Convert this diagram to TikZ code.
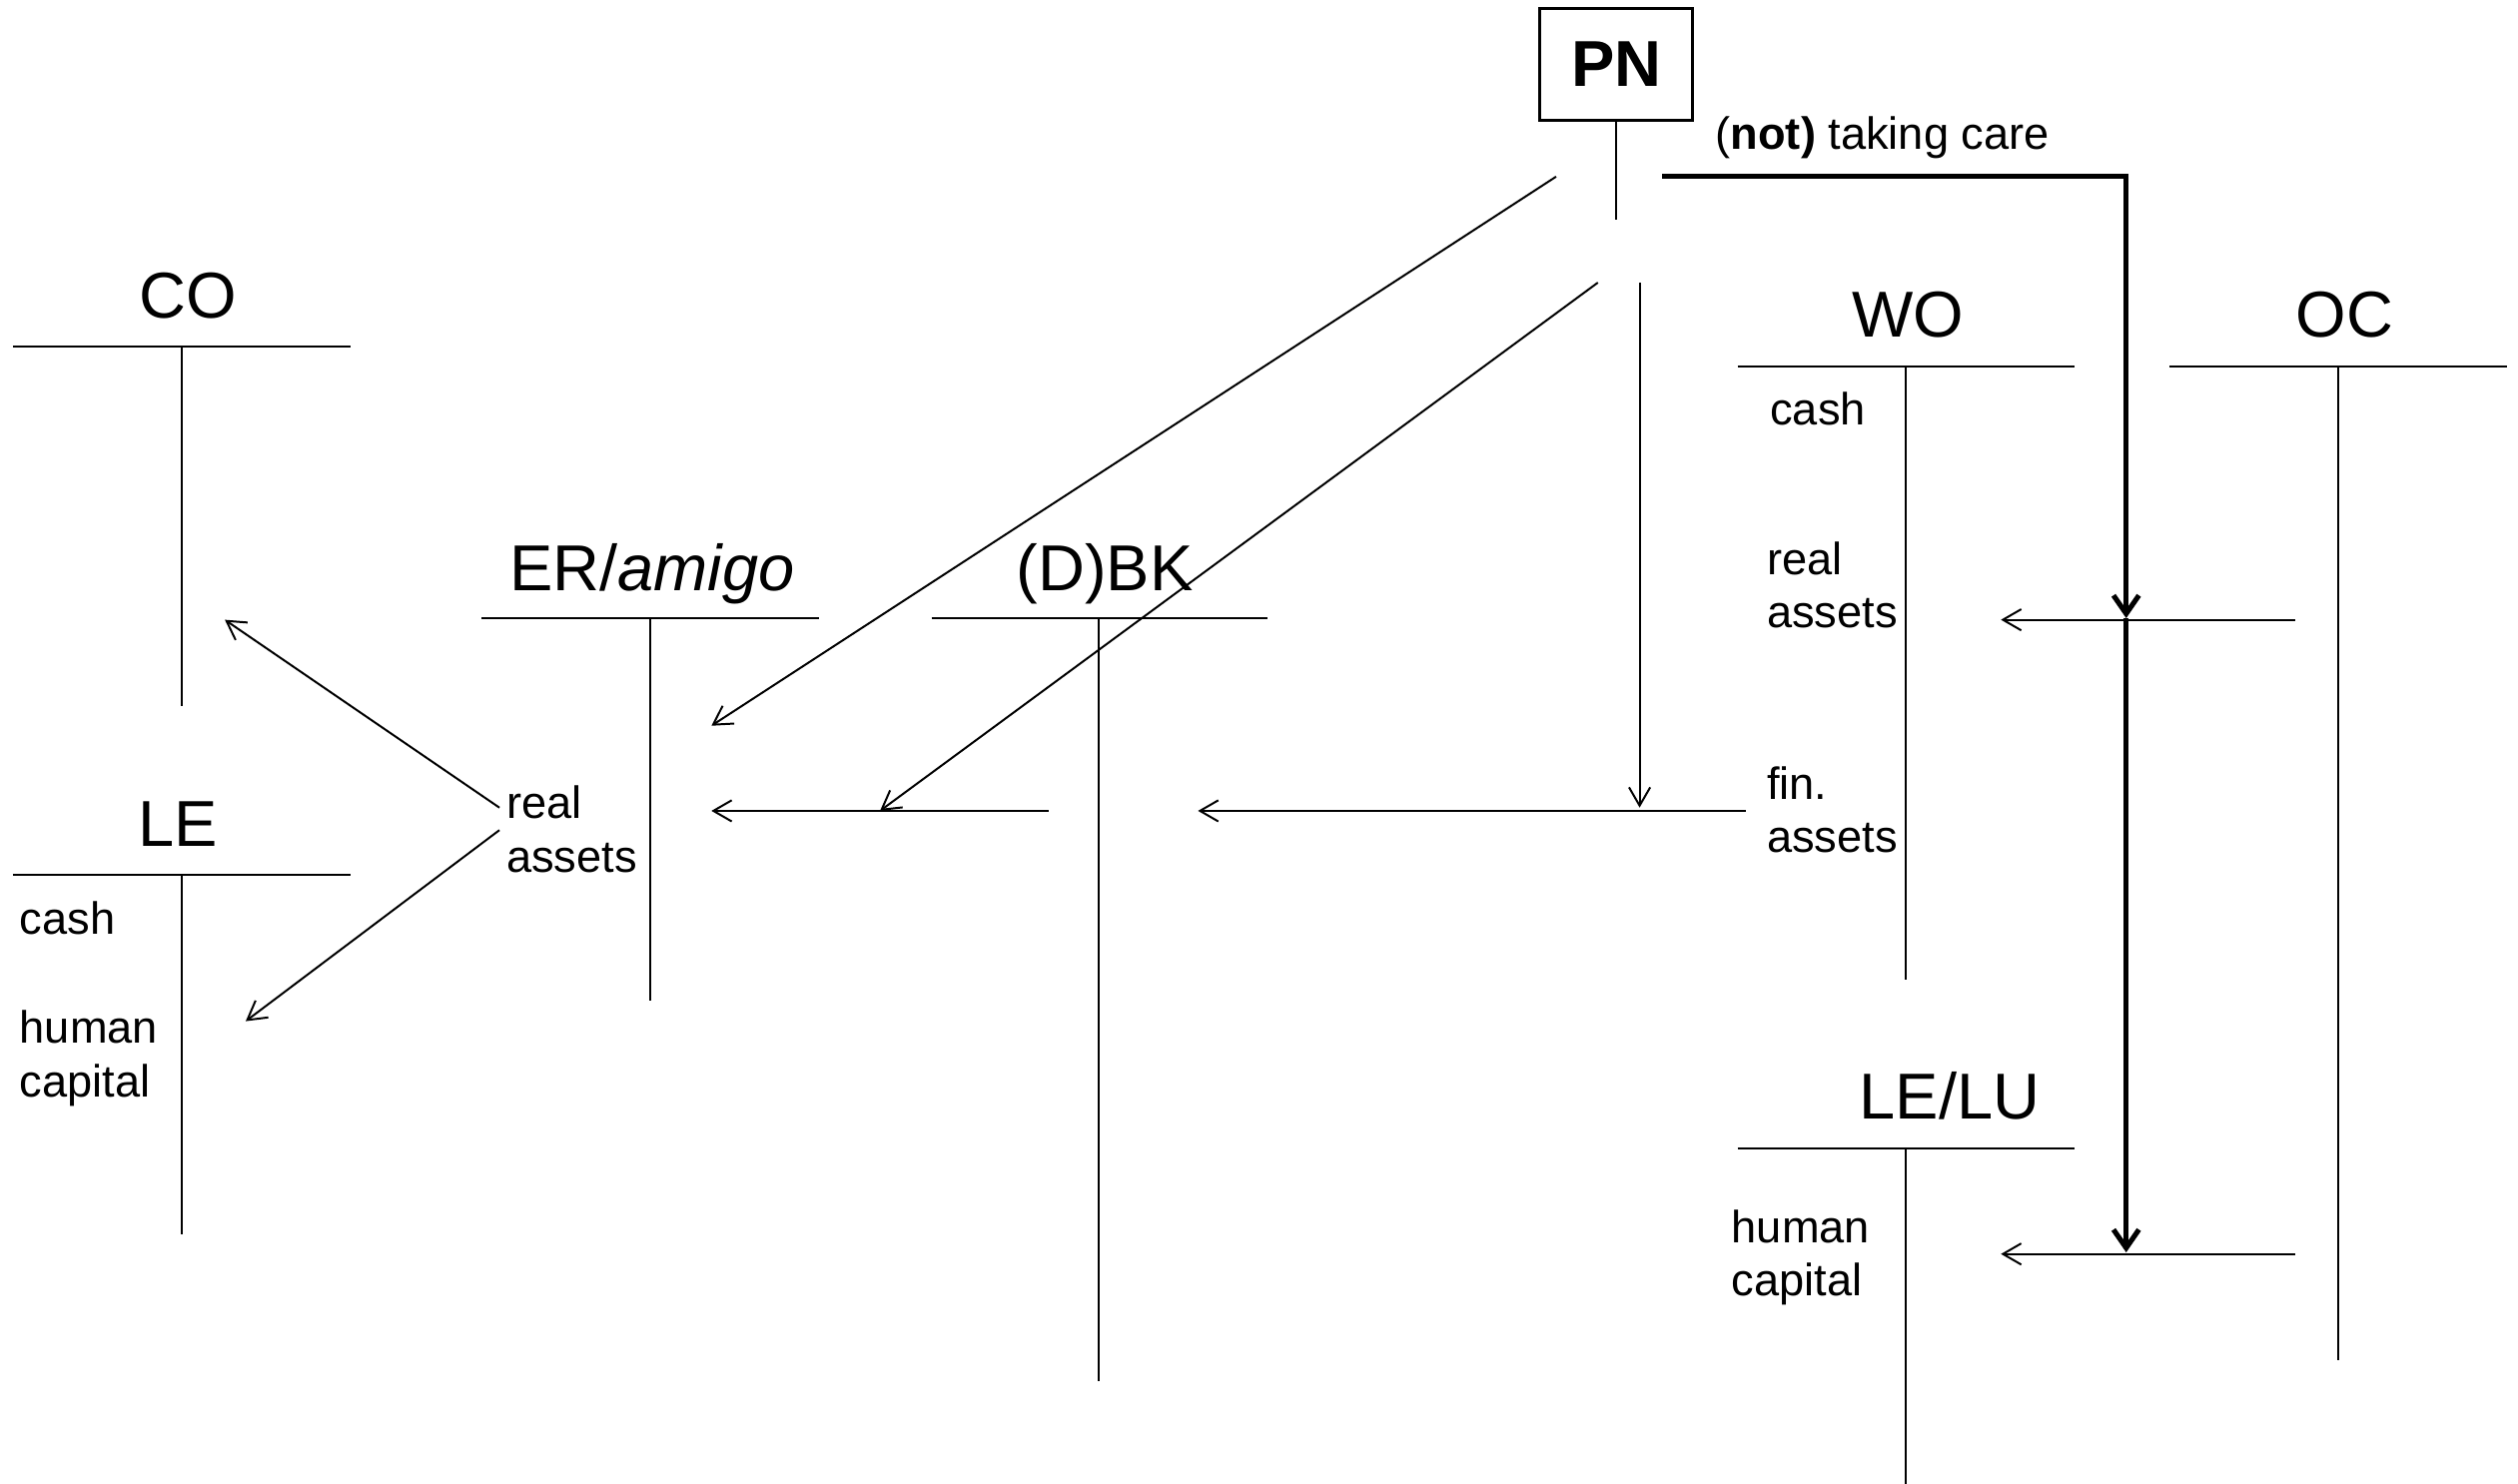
\documentclass[tikz,border=0pt]{standalone}
\usepackage{fontspec}
\setmainfont{Liberation Sans}
\usetikzlibrary{arrows.meta}
\begin{document}
\begin{tikzpicture}[x=0.02cm,y=-0.02cm,
  ttl/.style={font=\fontsize{23}{27}\selectfont, anchor=base, inner sep=0pt},
  lbl/.style={font=\fontsize{16}{19}\selectfont, align=left, anchor=north west, inner sep=0pt},
  rule/.style={line width=0.7pt},
  flow/.style={line width=0.7pt, -{Straight Barb[length=6.5pt,width=7.5pt]}},
  bigflow/.style={line width=1.8pt, line join=miter, -{Straight Barb[length=6.5pt,width=9pt]}},
  pnbox/.style={draw, line width=1.1pt, minimum width=1.9cm, minimum height=1.4cm, inner sep=0pt,
    font=\fontsize{23}{27}\selectfont\bfseries}]
\useasboundingbox (0,0) rectangle (1568,924);

% PN
\node[pnbox] (pn) at (1006.5,40) {PN};
\coordinate (pnstem) at (1006.5,137);
\draw[rule] (pn.south) -- (pnstem);
\node[font=\fontsize{16}{19}\selectfont, anchor=base west, inner sep=0pt] (care) at (1068,93) {(\textbf{not)} taking care};

% T-accounts
\node[ttl] (co) at (117,198) {CO};
\draw[rule] (8,216) -- (218,216) (113,216) -- (113,440);

\node[ttl] (le) at (111,527) {LE};
\draw[rule] (8,545) -- (218,545) (113,545) -- (113,769);
\node[lbl] (lecash) at (12,561) {cash};
\node[lbl] (lehum) at (12,629) {human\\capital};

\node[ttl] (er) at (406,368) {ER/\textit{amigo}};
\draw[rule] (300,385) -- (510,385) (405,385) -- (405,623);
\node[lbl] (erreal) at (315,489) {real\\assets};

\node[ttl] (dbk) at (688,368) {(D)BK};
\draw[rule] (580,385) -- (789,385) (684,385) -- (684,860);

\node[ttl] (wo) at (1188,210) {WO};
\draw[rule] (1082,228) -- (1292,228) (1187,228) -- (1187,610);
\node[lbl] (wocash) at (1102,244) {cash};
\node[lbl] (woreal) at (1100,337) {real\\assets};
\node[lbl] (wofin) at (1100,477) {fin.\\assets};

\node[ttl] (oc) at (1460,210) {OC};
\draw[rule] (1351,228) -- (1561,228) (1456,228) -- (1456,847);

\node[ttl] (lelu) at (1214,697) {LE/LU};
\draw[rule] (1082,715) -- (1292,715) (1187,715) -- (1187,924);
\node[lbl] (luhum) at (1078,753) {human\\capital};

% arrow end points
\coordinate (a1s) at (969,110);  \coordinate (a1e) at (443,452);
\coordinate (a2s) at (995,176);  \coordinate (a2e) at (548,505);
\coordinate (a3s) at (1021,176); \coordinate (a3e) at (1021,503);
\coordinate (a4s) at (311,503);  \coordinate (a4e) at (140,386);
\coordinate (a5s) at (311,517);  \coordinate (a5e) at (153,636);
\coordinate (a6s) at (653,505);  \coordinate (a6e) at (443,505);
\coordinate (a7s) at (1087,505); \coordinate (a7e) at (746,505);
\coordinate (a8s) at (1429,386); \coordinate (a8e) at (1246,386);
\coordinate (a9s) at (1429,781); \coordinate (a9e) at (1246,781);
\coordinate (ts) at (1035,110);  \coordinate (tc) at (1324,110);
\coordinate (tm) at (1324,385);  \coordinate (te) at (1324,780);

\draw[flow] (a1s) -- (a1e);
\draw[flow] (a2s) -- (a2e);
\draw[flow] (a3s) -- (a3e);
\draw[flow] (a4s) -- (a4e);
\draw[flow] (a5s) -- (a5e);
\draw[flow] (a6s) -- (a6e);
\draw[flow] (a7s) -- (a7e);
\draw[flow] (a8s) -- (a8e);
\draw[flow] (a9s) -- (a9e);
\draw[bigflow] (ts) -- (tc) -- (tm);
\draw[bigflow] (tm) -- (te);
\end{tikzpicture}
\end{document}
